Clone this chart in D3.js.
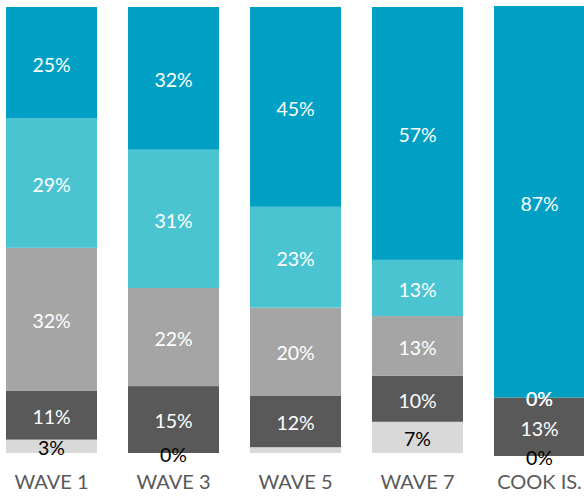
<!DOCTYPE html>
<html>
<head>
<meta charset="utf-8">
<script src="https://cdn.jsdelivr.net/npm/d3@7"></script>
<style>
  html, body { margin: 0; padding: 0; background: #fff; }
  svg { display: block; }
</style>
</head>
<body>
<script>
// ---- data ----
const categories = ["WAVE 1", "WAVE 3", "WAVE 5", "WAVE 7", "COOK IS."];
const seriesKeys = ["light", "dark", "grey", "lightTeal", "teal"]; // bottom to top
const light     = [3, 0, 1.3, 7.0, 0];
const dark      = [11, 15, 11.6, 10.3, 13];
const grey      = [32, 22, 19.7, 13.4, 0];
const lightTeal = [29, 31, 22.6, 12.6, 0];
const teal      = [25, 32, 44.8, 56.7, 87];
const hiddenLabel = { light: [false, false, true, false, false] };

const seriesValues = { light, dark, grey, lightTeal, teal };
const colors = { light: "#D9D9D9", dark: "#595959", grey: "#A5A5A5", lightTeal: "#4BC4D2", teal: "#00A0C4" };
const labelColors = { light: "#000000", dark: "#FFFFFF", grey: "#FFFFFF", lightTeal: "#FFFFFF", teal: "#FFFFFF" };

const W = 584, H = 496;
const svg = d3.select("body").append("svg").attr("width", W).attr("height", H);

const table = categories.map((c, i) => {
  const row = { category: c };
  seriesKeys.forEach(k => row[k] = seriesValues[k][i]);
  return row;
});
const stacked = d3.stack().keys(seriesKeys)(table);

const x = d3.scaleBand().domain(categories).range([6, 585]).paddingInner(31 / 122).paddingOuter(0);
const yMain = d3.scaleLinear().domain([0, 100]).range([453, 7]);
const yCook = d3.scaleLinear().domain([0, 100]).range([456, 6]);
const yFor = c => c === "COOK IS." ? yCook : yMain;

const fontFamily = "Lato, 'Open Sans', sans-serif";

const layers = svg.selectAll("g.layer").data(stacked).join("g").attr("class", "layer")
  .attr("fill", d => colors[d.key]);

layers.selectAll("rect").data(d => d.map(p => ({ p, key: d.key })))
  .join("rect")
  .attr("x", d => x(d.p.data.category))
  .attr("width", x.bandwidth())
  .attr("y", d => yFor(d.p.data.category)(d.p[1]))
  .attr("height", d => yFor(d.p.data.category)(d.p[0]) - yFor(d.p.data.category)(d.p[1]));

// labels
const labelG = svg.append("g");
stacked.forEach(layer => {
  layer.forEach((p, i) => {
    if (hiddenLabel[layer.key] && hiddenLabel[layer.key][i]) return;
    const y = yFor(p.data.category);
    const v = p.data[layer.key];
    labelG.append("text")
      .attr("x", x(p.data.category) + x.bandwidth() / 2)
      .attr("y", (y(p[0]) + y(p[1])) / 2)
      .attr("dy", "0.45em")
      .attr("text-anchor", "middle")
      .attr("font-family", fontFamily)
      .attr("font-size", 19.5)
      .attr("fill", labelColors[layer.key])
      .text(Math.round(v) + "%");
  });
});

// category axis
const axis = d3.axisBottom(x).tickSize(0).tickPadding(0);
const ax = svg.append("g").attr("transform", "translate(0,475)").call(axis);
ax.select(".domain").remove();
ax.selectAll("text")
  .attr("dy", "0.72em")
  .attr("font-family", fontFamily)
  .attr("font-size", 20)
  .attr("fill", "#595959");
</script>
</body>
</html>
